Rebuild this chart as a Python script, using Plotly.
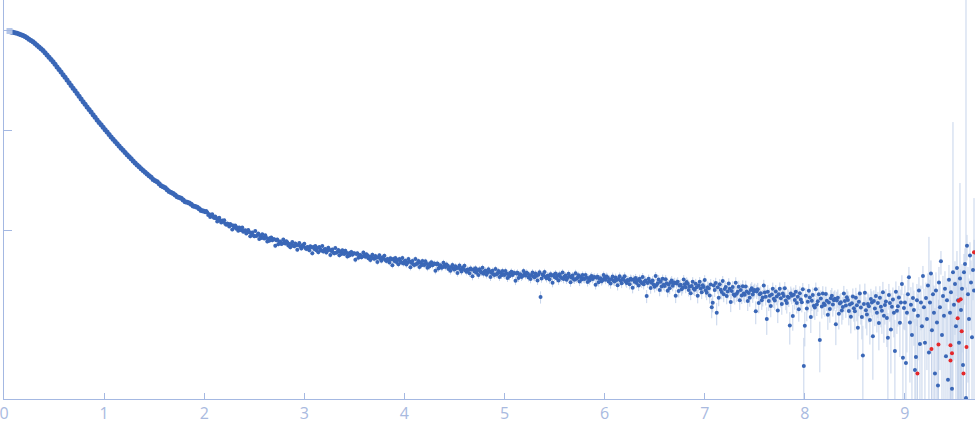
import numpy as np
import plotly.graph_objects as go

# ---------------- data ----------------
# low-q part: q = 0.07, 0.09, ... (step 0.02)
Q_LOW_START, Q_LOW_STEP = 0.07, 0.02
I_low = [96400, 95700, 94700, 93200, 91700, 90300, 88800, 86800, 84100, 81600,
         79100, 76700, 74000, 71000, 68100, 65300, 62700, 59800, 56700, 53800,
         51000, 48400, 45700, 43000, 40500, 38200, 36000, 33900, 31800, 29900,
         28100, 26400, 24800, 23300, 21900, 20600, 19300, 18200, 17100, 16100,
         15200, 14300, 13500, 12700, 12000, 11370, 10720, 10140, 9590, 9080,
         8590, 8130, 7710, 7330, 6970, 6620, 6300, 5990, 5710, 5440,
         5180, 4935, 4710, 4510, 4320, 4130, 3960, 3800, 3650, 3510,
         3400, 3220, 3130, 3050, 2920, 2790, 2720, 2670, 2550, 2440,
         2390, 2340, 2250, 2160, 2130, 2090, 2010, 1935, 1910, 1880,
         1820, 1750, 1730, 1700, 1640, 1580, 1560]

# high-q part: q = 2.00, 2.01, ... 9.70 (step 0.01)
Q_HIGH_START, Q_HIGH_STEP = 2.00, 0.01
I_high = [
    1564, 1512, 1557, 1517, 1426, 1448, 1360, 1421, 1450, 1355,   # 2.0
    1327, 1376, 1323, 1225, 1309, 1337, 1250, 1199, 1252, 1218,   # 2.1
    1261, 1166, 1138, 1168, 1148, 1089, 1157, 1130, 1017, 1114,   # 2.2
    1071, 1115, 1038, 1066, 990, 1068, 1022, 999, 1066, 966,      # 2.3
    992, 999, 930, 953, 1007, 961, 870, 931, 953, 893,            # 2.4
    872, 983, 878, 890, 928, 817, 889, 839, 911, 844,             # 2.5
    830, 891, 844, 772, 824, 785, 837, 847, 793, 812,             # 2.6
    814, 700, 797, 808, 726, 768, 772, 729, 740, 810,             # 2.7
    761, 736, 776, 758, 704, 730, 675, 730, 763, 702,             # 2.8
    692, 738, 707, 640, 714, 746, 687, 656, 708, 691,             # 2.9
    735, 665, 649, 681, 672, 630, 694, 678, 590, 680,             # 3.0
    651, 695, 633, 664, 604, 679, 644, 629, 698, 612,             # 3.1
    641, 652, 599, 623, 671, 638, 566, 620, 643, 598,             # 3.2
    589, 667, 598, 608, 636, 562, 613, 581, 633, 589,             # 3.3
    581, 626, 595, 546, 585, 560, 598, 608, 571, 587,             # 3.4
    590, 508, 580, 590, 531, 563, 567, 537, 546, 599,             # 3.5
    564, 545, 576, 564, 524, 544, 504, 545, 571, 526,             # 3.6
    519, 554, 531, 481, 538, 562, 519, 496, 536, 523,             # 3.7
    557, 504, 492, 516, 509, 477, 526, 514, 447, 516,             # 3.8
    494, 527, 481, 504, 458, 516, 489, 477, 529, 465,             # 3.9
    487, 497, 454, 474, 515, 487, 428, 474, 494, 456,             # 4.0
    450, 517, 459, 468, 493, 430, 474, 448, 492, 456,             # 4.1
    450, 489, 463, 422, 456, 435, 469, 478, 447, 461,             # 4.2
    465, 395, 457, 466, 415, 443, 446, 421, 428, 475,             # 4.3
    445, 429, 456, 445, 410, 428, 393, 430, 451, 413,             # 4.4
    406, 437, 417, 375, 423, 445, 407, 387, 422, 411,             # 4.5
    442, 396, 385, 406, 400, 373, 416, 405, 347, 406,             # 4.6
    388, 417, 377, 398, 358, 409, 387, 378, 423, 367,             # 4.7
    387, 395, 360, 376, 408, 387, 341, 377, 393, 363,             # 4.8
    358, 410, 364, 372, 391, 342, 377, 356, 392, 363,             # 4.9
    357, 392, 369, 334, 364, 347, 376, 385, 358, 371,             # 5.0
    375, 313, 370, 377, 334, 359, 363, 341, 349, 391,             # 5.1
    366, 353, 377, 369, 338, 355, 325, 358, 379, 345,             # 5.2
    340, 370, 352, 314, 359, 380, 215, 329, 362, 353,             # 5.3
    382, 341, 331, 352, 347, 322, 363, 354, 299, 357,             # 5.4
    341, 370, 332, 352, 314, 364, 342, 334, 378, 325,             # 5.5
    345, 353, 320, 336, 367, 347, 302, 338, 353, 325,             # 5.6
    321, 373, 328, 336, 355, 307, 342, 322, 357, 329,             # 5.7
    325, 357, 336, 304, 331, 315, 342, 350, 325, 337,             # 5.8
    341, 286, 336, 344, 303, 327, 331, 310, 318, 357,             # 5.9
    334, 321, 346, 337, 307, 323, 293, 326, 346, 313,             # 6.0
    308, 337, 319, 282, 326, 347, 313, 296, 328, 320,             # 6.1
    348, 307, 298, 318, 313, 289, 328, 320, 267, 323,             # 6.2
    306, 333, 297, 316, 280, 327, 306, 298, 341, 289,             # 6.3
    308, 315, 220, 298, 328, 309, 265, 299, 315, 286,             # 6.4
    273, 349, 284, 295, 323, 253, 305, 274, 327, 285,             # 6.5
    278, 324, 295, 248, 287, 264, 303, 314, 279, 295,             # 6.6
    301, 221, 294, 305, 247, 281, 286, 257, 268, 322,             # 6.7
    288, 270, 304, 292, 253, 274, 235, 278, 305, 261,             # 6.8
    255, 292, 270, 221, 280, 306, 262, 240, 282, 271,             # 6.9
    318, 251, 238, 270, 263, 223, 287, 170, 189, 280,             # 7.0
    253, 297, 150, 270, 212, 288, 255, 242, 311, 229,             # 7.1
    259, 271, 220, 245, 294, 261, 192, 247, 271, 228,             # 7.2
    221, 299, 232, 243, 273, 200, 253, 223, 276, 234,             # 7.3
    227, 274, 244, 196, 236, 212, 253, 263, 228, 245,             # 7.4
    253, 155, 245, 258, 188, 229, 235, 200, 213, 280,             # 7.5
    239, 217, 130, 243, 196, 222, 175, 228, 260, 207,             # 7.6
    199, 244, 218, 158, 230, 261, 209, 183, 233, 220,             # 7.7
    264, 199, 187, 217, 211, 112, 234, 222, 139, 227,             # 7.8
    201, 243, 187, 217, 162, 235, 203, 191, 257, 44,              # 7.9
    111, 222, 165, 193, 248, 213, 136, 198, 225, 176,             # 8.0
    169, 258, 181, 195, 229, 80, 208, 173, 234, 185,              # 8.1
    179, 231, 198, 143, 190, 163, 209, 221, 181, 200,             # 8.2
    207, 115, 199, 212, 146, 185, 191, 158, 171, 234,             # 8.3
    196, 177, 214, 201, 156, 181, 137, 186, 218, 166,             # 8.4
    155, 211, 178, 106, 193, 233, 169, 136, 56, 183,              # 8.5
    238, 159, 144, 183, 174, 127, 205, 190, 87, 196,              # 8.6
    165, 220, 150, 187, 118, 211, 172, 157, 240, 140,             # 8.7
    179, 194, 133, 84, 226, 187, 102, 172, 203, 150,              # 8.8
    62, 243, 157, 174, 213, 119, 190, 290, 53, 167,               # 8.9
    190, 47, 150, 230, 340, 120, 180, 90, 210, 160,               # 9.0
    40, 54, 200, 140, 250, 73, 190, 110, 350, 170,                # 9.1
    75, 210, 130, 280, 60, 190, 370, 100, 230, 150,               # 9.2
    37, 250, 120, 28, 300, 170, 490, 90, 220, 140,                # 9.3
    260, 55, 200, 32, 320, 150, 240, 26, 380, 180,                # 9.4
    290, 110, 420, 200, 75, 330, 160, 260, 45, 380,               # 9.5
    460, 21, 700, 230, 130, 560, 300, 85, 400, 250,               # 9.6
    600,                                                          # 9.7
]

# absolute uncertainty per q bin of width 0.25
sigma_low_bins = [400, 350, 300, 250, 120, 90, 70, 60]            # q 0 - 2
sigma_high_bins = [50, 42, 38, 35, 34, 33, 32, 31, 32, 32, 31, 30, 30, 30, 30, 30,
                   32, 33, 34, 35, 38, 40, 40, 40, 42, 44, 55, 65, 90, 130, 200]  # q 2 - 9.75
# individual points with very large uncertainty
spike_q = [9.24, 9.48, 9.55, 9.61, 9.69]
spike_sigma = [800, 11700, 2640, 300000, 1850]

# points drawn in red
red_q = [9.125, 9.265, 9.335, 9.455, 9.47, 9.455, 9.527, 9.537, 9.557, 9.567, 9.585, 9.615, 9.69]
red_I = [37, 65, 72, 71, 59, 50, 132, 198, 204, 98, 37, 68, 603]

# first (light) point
first_q = [0.055]
first_I = [98400]

# ---------------- build ----------------
q_low = np.round(Q_LOW_START + Q_LOW_STEP * np.arange(len(I_low)), 3)
q_high = np.round(Q_HIGH_START + Q_HIGH_STEP * np.arange(len(I_high)), 3)
q = np.concatenate([q_low, q_high])
I = np.array(I_low + I_high, dtype=float)


def sigma_of(qv):
    if qv < 2:
        return sigma_low_bins[min(int(qv / 0.25), len(sigma_low_bins) - 1)]
    return sigma_high_bins[min(int((qv - 2) / 0.25), len(sigma_high_bins) - 1)]


sig = np.array([sigma_of(v) for v in q], dtype=float)
for sq, ss in zip(spike_q, spike_sigma):
    sig[int(np.argmin(np.abs(q - sq)))] = ss
red_sig = [sigma_of(v) for v in red_q]

BLUE = "#3a67b7"
ERR = "#c6d4eb"
RED = "#e4282b"
AX = "#a4b8e2"
LBL = "#a9badf"

fig = go.Figure()
# error bars (behind markers)
fig.add_trace(go.Scatter(x=q, y=I, mode="markers",
                         marker=dict(size=4, color="rgba(0,0,0,0)"),
                         error_y=dict(type="data", array=sig, color=ERR, thickness=1, width=0),
                         hoverinfo="skip"))
fig.add_trace(go.Scatter(x=red_q, y=red_I, mode="markers",
                         marker=dict(size=4, color="rgba(0,0,0,0)"),
                         error_y=dict(type="data", array=red_sig, color=ERR, thickness=1, width=0),
                         hoverinfo="skip"))
fig.add_trace(go.Scatter(x=q_low, y=I_low, mode="markers",
                         marker=dict(size=5, color=BLUE)))
fig.add_trace(go.Scatter(x=q_high, y=I_high, mode="markers",
                         marker=dict(size=4, color=BLUE)))
fig.add_trace(go.Scatter(x=red_q, y=red_I, mode="markers",
                         marker=dict(size=4, color=RED)))
fig.add_trace(go.Scatter(x=first_q, y=first_I, mode="markers",
                         marker=dict(size=6, color="#b3c5e8", symbol="square")))

fig.update_layout(
    width=975, height=437,
    margin=dict(l=4, r=0, t=0, b=38),
    paper_bgcolor="white", plot_bgcolor="white",
    showlegend=False,
    font=dict(family="Open Sans", color=LBL),
    xaxis=dict(range=[0, 9.70], tickvals=list(range(10)), ticks="inside", ticklen=6,
               tickcolor=AX, showline=True, linecolor=AX, linewidth=1,
               showgrid=False, zeroline=False, ticklabeloverflow="allow",
               tickfont=dict(size=16, color=LBL, family="Open Sans")),
    yaxis=dict(type="log", range=[1.313, 5.303], tickvals=[1e3, 1e4, 1e5],
               ticks="inside", ticklen=8, tickcolor=AX, showline=True, linecolor=AX,
               linewidth=1, showgrid=False, zeroline=False, showticklabels=False),
)

fig.write_html("out.html", config={"displayModeBar": False},
               post_script="document.body.style.margin='0px';")
